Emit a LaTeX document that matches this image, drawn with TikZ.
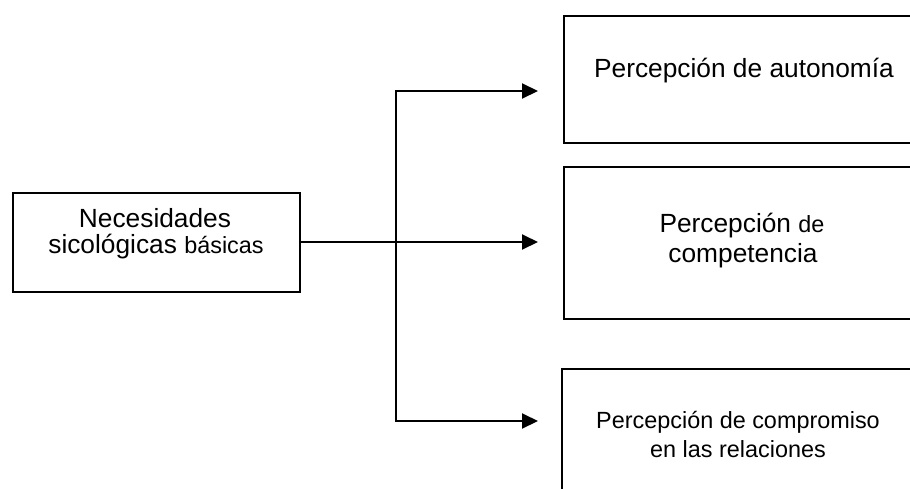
\documentclass[tikz,border=0pt]{standalone}
\usepackage{fontspec}
\setmainfont{Liberation Sans}
\usetikzlibrary{arrows.meta}
\tikzset{
  box/.style={draw, line width=2pt, inner sep=0pt, anchor=north west},
  lbl/.style={anchor=base, inner sep=0pt, font=\fontsize{26.3}{30}\selectfont},
  slbl/.style={anchor=base, inner sep=0pt, font=\fontsize{23.4}{28}\selectfont},
  conn/.style={line width=2pt},
  arr/.style={conn, -{Triangle[length=16pt,width=15pt]}}
}
\begin{document}
\begin{tikzpicture}[x=1pt,y=-1pt]
\useasboundingbox (0,0) rectangle (910,488);
\clip (0,0) rectangle (910,488);
% boxes
\node[box, minimum width=287pt, minimum height=99pt] (left) at (12,192) {};
\node[box, minimum width=362pt, minimum height=127pt] (top) at (563,15) {};
\node[box, minimum width=362pt, minimum height=152pt] (mid) at (563,166) {};
\node[box, minimum width=354pt, minimum height=140pt] (bot) at (561,368) {};
% texts
\node[lbl] (l1) at (155,227) {Necesidades};
\node[lbl] (l2) at (156,253) {sicológicas {\fontsize{23.4}{28}\selectfont básicas}};
\node[lbl] (t1) at (744,77) {Percepción de autonomía};
\node[lbl] (m1) at (742,232) {Percepción {\fontsize{23.4}{28}\selectfont de}};
\node[lbl] (m2) at (743,262) {competencia};
\node[slbl] (b1) at (738,428) {Percepción de compromiso};
\node[slbl] (b2) at (738,457) {en las relaciones};
% connectors
\coordinate (j) at (396,242);
\coordinate (e1) at (538,91);
\coordinate (e2) at (538,242);
\coordinate (e3) at (538,421);
\draw[arr] (left.east |- j) -- (e2);
\draw[arr] (j) |- (e1);
\draw[arr] (j) |- (e3);
\end{tikzpicture}
\end{document}
